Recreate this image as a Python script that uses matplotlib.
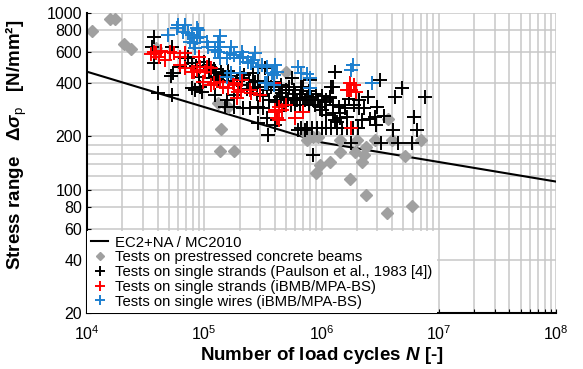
import matplotlib
matplotlib.use("Agg")
import numpy as np
from matplotlib import pyplot as plt

# S-N curve EC2+NA / MC2010 (strands: k1=5, k2=9, N*=1e6)
curve_n = [1e4, 1e6, 1e8]
curve_s = [465, 185, 111]

# tests on prestressed concrete beams
beam_n = [1.1e4, 1.57e4, 1.73e4, 2.07e4, 2.36e4, 3.9e4, 1.3e5, 1.6e5, 1.4e5,
          1.36e5, 1.8e5, 5e5, 3.7e6, 7e6, 1.45e6, 2e6, 2.85e6, 3.97e6, 8.5e5,
          7.5e5, 9.3e5, 1.45e6, 1.93e6, 2.4e6, 2.3e6, 2.2e6, 1.18e6, 9.7e5,
          9e5, 5.2e6, 1.74e6, 2.4e6, 5.9e6, 3.6e6, 7.2e5]
beam_s = [795, 925, 925, 665, 625, 636, 308, 295, 220,
          165, 165, 465, 251, 191, 191, 191, 191, 191, 199,
          191, 199, 164, 164, 175, 157, 144, 144, 138,
          124, 154, 115, 93, 81, 74, 208]

# tests on single strands (Paulson et al., 1983)
paul_n = [3.7e4, 3.56e4, 3.7e4, 5.3e4, 5.4e4, 5.2e4, 4.05e4, 5.3e4, 6.9e4,
          7.25e4, 7.3e4, 7.8e4, 8.3e4, 6.2e4, 9.2e4, 9e4, 9.5e4, 1.23e5,
          1.4e5, 1.27e5, 1.45e5, 1.55e5, 1.5e5, 1.8e5, 2.15e5, 2.45e5,
          2.87e5, 3.15e5, 2.2e5, 2.6e5, 2.7e5, 3.3e5, 3.4e5, 4.3e5, 4.6e5,
          5.6e5, 5.8e5, 6.7e5, 6.5e5, 7.2e5, 5.2e5, 4e5, 1.8e5, 1.23e5,
          2.6e5, 3e5, 3.9e5, 4.4e5, 5e5, 6.2e5, 7e5, 7.5e5, 8.5e5, 9.8e5,
          1.18e6, 1.25e6, 1.3e6, 1.45e6, 1.35e6, 1.65e6,
          6.7e5, 7.5e5, 8.3e5, 9.2e5, 1.0e6, 1.1e6, 1.2e6, 1.35e6, 1.5e6,
          1.65e6, 1.85e6, 2.05e6,
          2.87e5, 3.5e5, 3.4e5, 4.15e5, 4e5, 6.3e5, 7.2e5, 8.5e5,
          3.15e6, 4.85e6, 4.2e6, 7.7e6, 8e5, 1.2e6, 2.5e6, 3e6, 2.1e6,
          1.7e6, 2.1e6, 1.8e6, 3.2e6, 4.5e6, 5.9e6, 4.1e6, 6.5e6, 6.1e6,
          2.9e6, 2.85e6, 2.2e6, 1.45e6, 1.3e6,
          8.2e5, 9.3e5, 1.07e6, 1.18e6, 1.4e6, 1e6, 7.8e5,
          7.9e4, 8.5e4, 1.0e5, 1.1e5, 1.15e5, 1.3e5, 1.6e5, 1.9e5, 2.0e5,
          2.3e5, 2.8e5, 3.2e5, 3.6e5, 4.8e5, 5.5e5, 6e5, 7e5, 8.8e5,
          1.1e5, 1.2e5, 1.6e5, 1.7e5, 2.1e5, 2.4e5, 2.9e5, 3.5e5, 3.7e5,
          4.5e5, 5.3e5, 6e5, 6.8e5, 7.8e5, 9e5, 1.0e6, 1.1e6, 1.25e6,
          1.6e6, 1.9e6, 2.3e6, 5e5, 5.7e5, 4.2e5, 6.5e5, 1.1e6, 1.25e6,
          2.6e6, 3.4e6, 1.6e6]
paul_s = [730, 645, 523, 640, 456, 441, 351, 342, 554,
          554, 566, 375, 366, 497, 383, 436, 359, 436,
          465, 456, 446, 322, 295, 295, 289, 289,
          295, 289, 446, 456, 408, 486, 366, 366, 351,
          427, 366, 383, 329, 322, 322, 314, 342, 342,
          375, 383, 408, 336, 366, 322, 383, 336, 322, 295,
          336, 383, 465, 270, 242, 259,
          222, 222, 222, 222, 222, 222, 222, 222, 222,
          222, 222, 222,
          237, 204, 253, 248, 233, 218, 218, 157,
          418, 375, 336, 336, 418, 383, 336, 295, 289,
          325, 322, 183, 183, 183, 183, 218, 218, 259,
          233, 259, 248, 253, 248,
          336, 322, 314, 329, 295, 282, 301,
          520, 500, 530, 505, 430, 420, 410, 420, 390,
          370, 350, 340, 320, 300, 300, 300, 300, 300,
          470, 480, 470, 440, 430, 420, 410, 400, 380,
          390, 380, 350, 350, 360, 350, 340, 320, 300,
          300, 300, 290, 330, 330, 320, 300, 265, 270,
          250, 260, 290]

# tests on single strands (iBMB/MPA-BS)
strand_n = [3.7e4, 3.9e4, 4.3e4, 4.6e4, 5.1e4, 6.85e4, 6.2e4, 6.85e4, 7.8e4,
            8.6e4, 3.5e4, 4.1e4, 5.5e4, 6.2e4, 9e4, 9.2e4, 1.02e5, 1.15e5,
            9.8e4, 1.15e5, 1.36e5, 1.45e5, 1.6e5, 1.8e5, 1.95e5, 1.9e5,
            2.08e5, 2.5e5, 3e5, 4e5, 5e5, 4.6e5, 3.9e5, 8.1e4, 1.05e5, 1.2e5,
            1.75e5, 2.05e5, 2.45e5, 4.3e5, 4.15e5, 6e5, 4.3e5, 7e5, 4e5,
            1.65e6, 1.74e6, 1.9e6, 1.8e6, 1.7e6, 1.98e6, 1.8e6]
strand_s = [604, 591, 609, 542, 604, 591, 508, 486, 465,
            476, 585, 560, 590, 560, 566, 497, 465, 486,
            408, 391, 408, 383, 375, 391, 359, 329,
            418, 351, 342, 282, 301, 282, 400, 465, 497, 400,
            400, 366, 366, 295, 253, 253, 248, 276, 276,
            366, 400, 391, 366, 366, 359, 224]

# tests on single wires (iBMB/MPA-BS)
wire_n = [4.95e4, 6e4, 6.85e4, 6.6e4, 7.8e4, 7.55e4, 8.6e4, 8.1e4, 8.3e4,
          5.8e4, 7.3e4, 8.6e4, 8.9e4, 9.2e4, 1.05e5, 1.08e5, 1.36e5, 1.3e5,
          1.36e5, 1.3e5, 1.7e5, 1.65e5, 1.8e5, 2.08e5, 2.15e5, 2.03e5,
          2.7e5, 2.6e5, 2.37e5, 2.87e5, 3.1e5, 3.4e5, 4e5, 4.15e5, 3.8e5,
          6.3e5, 6.7e5, 1.7e5, 3.4e5, 3.9e5, 1.55e5, 1.23e5, 1.36e5, 1.55e5,
          2.5e5, 3.9e5, 3.3e5, 8e5, 8e5, 2e5, 1.87e6, 1.8e6, 2.7e6, 7.5e5]
wire_s = [750, 855, 855, 784, 750, 688, 719, 673, 631,
          820, 767, 820, 800, 734, 688, 645, 741, 688,
          645, 604, 645, 591, 578, 604, 566, 554,
          591, 542, 530, 497, 508, 497, 508, 465, 456,
          497, 456, 456, 400, 391, 436, 617, 554, 554,
          519, 446, 400, 427, 375, 456, 508, 476, 400, 450]

y_ticks = [20, 40, 60, 80, 100, 200, 400, 600, 800, 1000]
y_minor = [120, 140, 160, 180]

plt.rcParams["font.family"] = ["Liberation Sans", "DejaVu Sans"]
plt.rcParams["mathtext.fontset"] = "custom"
plt.rcParams["mathtext.rm"] = "Liberation Sans:bold"
plt.rcParams["mathtext.it"] = "Liberation Sans:italic:bold"
plt.rcParams["mathtext.bf"] = "Liberation Sans:bold"
plt.rcParams["mathtext.sf"] = "Liberation Sans"

fig = plt.figure(figsize=(5.83, 3.69), dpi=100)
ax = fig.add_axes([87 / 583, 1 - 313 / 369, 469 / 583, 300 / 369])

ax.plot(curve_n, curve_s, color="black", lw=1.5, zorder=2,
        label="EC2+NA / MC2010")
ax.plot(beam_n, beam_s, ls="none", marker="D", ms=6, mfc="#a0a0a0",
        mec="#a0a0a0", zorder=2.5, label="Tests on prestressed concrete beams")
ax.plot(paul_n, paul_s, ls="none", marker="+", ms=10, mew=1.4,
        color="black", zorder=3,
        label="Tests on single strands (Paulson et al., 1983 [4])")
ax.plot(strand_n, strand_s, ls="none", marker="+", ms=10, mew=1.4,
        color="#ff0000", zorder=3.5,
        label="Tests on single strands (iBMB/MPA-BS)")
ax.plot(wire_n, wire_s, ls="none", marker="+", ms=10, mew=1.4,
        color="#1c7fcf", zorder=4,
        label="Tests on single wires (iBMB/MPA-BS)")

ax.set_xscale("log")
ax.set_yscale("log")
ax.set_xlim(1e4, 1e8)
ax.set_ylim(20, 1000)
ax.set_yticks(y_ticks)
ax.set_yticklabels([str(v) for v in y_ticks])
ax.set_yticks(y_minor, minor=True)
ax.yaxis.set_minor_formatter(plt.NullFormatter())

ax.grid(True, which="both", color="#c8c8c8", lw=1.1, zorder=0)
ax.set_axisbelow(True)
for side in ["top", "right"]:
    ax.spines[side].set_visible(False)
for side in ["left", "bottom"]:
    ax.spines[side].set_linewidth(1.5)
ax.tick_params(which="both", direction="in", length=3, labelsize=11.5,
               width=0.8)
ax.tick_params(axis="y", which="minor", length=0)
ax.tick_params(axis="x", pad=8)

ax.set_xlabel(r"Number of load cycles $\mathit{N}$ [-]", fontsize=13.5,
              fontweight="bold")
ax.set_ylabel(r"Stress range   $\mathit{\Delta\sigma}_{\mathsf{p}}$   [N/mm²]",
              fontsize=13.5, fontweight="bold")
ax.xaxis.set_label_coords(0.5, -0.105)
ax.yaxis.set_label_coords(-0.123, 0.56)

leg = ax.legend(loc="lower left", bbox_to_anchor=(0, 0), borderaxespad=0,
                fontsize=10.7, frameon=True, fancybox=False, edgecolor="none",
                facecolor="white", framealpha=1, handlelength=1.1,
                handletextpad=0.5, labelspacing=0.05, borderpad=0.3,
                markerscale=0.7)
leg.set_zorder(10)

fig.savefig("out.png", dpi=100)
